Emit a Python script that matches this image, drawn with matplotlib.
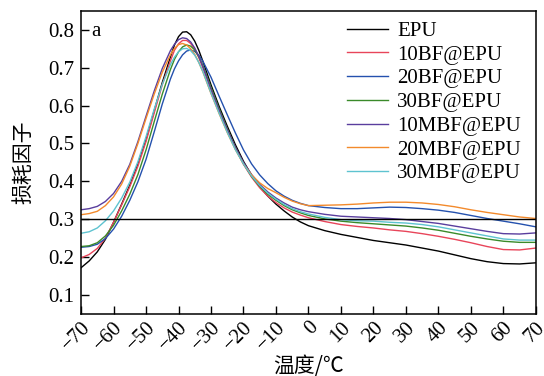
import matplotlib
matplotlib.use('Agg')
import matplotlib.pyplot as plt

plt.rcParams['font.family'] = ['Liberation Serif', 'DejaVu Serif']
plt.rcParams['axes.unicode_minus'] = True

# temperature grid (deg C), denser around the peak
temp = [-70, -67.5, -65, -62.5, -60, -57.5, -55, -52.5, -50, -47.5, -45, -42.5,
        -41.25, -40, -38.75, -37.5, -36.25, -35, -33.75, -32.5,
        -30, -27.5, -25, -22.5, -20, -17.5, -15, -12.5, -10, -7.5, -5, -2.5,
        0, 5, 10, 15, 20, 25, 30, 35, 40, 45, 50, 55, 60, 65, 70]

epu = [0.172, 0.190, 0.214, 0.247, 0.292, 0.340, 0.390, 0.446, 0.511, 0.586, 0.661, 0.728,
       0.760, 0.782, 0.794, 0.795, 0.787, 0.770, 0.746, 0.717,
       0.655, 0.598, 0.546, 0.497, 0.453, 0.416, 0.386, 0.361, 0.340, 0.322, 0.306, 0.293,
       0.283, 0.270, 0.260, 0.252, 0.244, 0.238, 0.232, 0.224, 0.216, 0.206, 0.196, 0.188,
       0.183, 0.182, 0.185]
bf10 = [0.198, 0.207, 0.223, 0.250, 0.292, 0.338, 0.386, 0.440, 0.505, 0.580, 0.655, 0.718,
        0.746, 0.763, 0.772, 0.772, 0.764, 0.749, 0.727, 0.700,
        0.640, 0.586, 0.535, 0.487, 0.445, 0.411, 0.383, 0.361, 0.344, 0.330, 0.319, 0.311,
        0.304, 0.294, 0.286, 0.281, 0.277, 0.272, 0.268, 0.262, 0.255, 0.247, 0.238, 0.228,
        0.220, 0.219, 0.224]
bf20 = [0.226, 0.228, 0.234, 0.249, 0.274, 0.308, 0.350, 0.399, 0.458, 0.530, 0.604, 0.670,
        0.697, 0.718, 0.734, 0.744, 0.747, 0.743, 0.733, 0.717,
        0.675, 0.625, 0.576, 0.528, 0.483, 0.446, 0.417, 0.394, 0.375, 0.361, 0.350, 0.342,
        0.336, 0.331, 0.328, 0.328, 0.330, 0.332, 0.331, 0.328, 0.324, 0.318, 0.310, 0.302,
        0.295, 0.288, 0.280]
bf30 = [0.228, 0.230, 0.238, 0.256, 0.284, 0.322, 0.366, 0.418, 0.483, 0.557, 0.630, 0.695,
        0.722, 0.742, 0.755, 0.760, 0.757, 0.747, 0.729, 0.706,
        0.648, 0.592, 0.539, 0.490, 0.447, 0.413, 0.387, 0.366, 0.350, 0.336, 0.325, 0.317,
        0.310, 0.301, 0.295, 0.291, 0.288, 0.285, 0.282, 0.277, 0.271, 0.263, 0.255, 0.248,
        0.242, 0.239, 0.239]
mbf10 = [0.325, 0.328, 0.334, 0.347, 0.368, 0.400, 0.445, 0.505, 0.572, 0.638, 0.698, 0.745,
         0.762, 0.774, 0.779, 0.777, 0.768, 0.752, 0.730, 0.703,
         0.643, 0.588, 0.537, 0.490, 0.450, 0.418, 0.392, 0.372, 0.356, 0.343, 0.332, 0.325,
         0.320, 0.313, 0.308, 0.306, 0.304, 0.302, 0.299, 0.294, 0.289, 0.282, 0.275, 0.268,
         0.262, 0.261, 0.264]
mbf20 = [0.312, 0.315, 0.321, 0.336, 0.359, 0.393, 0.440, 0.500, 0.566, 0.630, 0.688, 0.734,
         0.751, 0.761, 0.764, 0.760, 0.750, 0.735, 0.714, 0.689,
         0.632, 0.579, 0.529, 0.484, 0.446, 0.417, 0.396, 0.381, 0.370, 0.358, 0.348, 0.341,
         0.336, 0.337, 0.338, 0.340, 0.343, 0.345, 0.345, 0.343, 0.339, 0.333, 0.325, 0.318,
         0.312, 0.306, 0.302]
mbf30 = [0.263, 0.267, 0.277, 0.296, 0.322, 0.356, 0.398, 0.452, 0.518, 0.590, 0.656, 0.708,
         0.728, 0.742, 0.750, 0.751, 0.745, 0.733, 0.714, 0.690,
         0.633, 0.580, 0.530, 0.484, 0.446, 0.414, 0.389, 0.369, 0.353, 0.339, 0.328, 0.320,
         0.314, 0.305, 0.299, 0.296, 0.295, 0.292, 0.290, 0.286, 0.280, 0.272, 0.264, 0.256,
         0.248, 0.245, 0.245]

names = ['EPU', '10BF@EPU', '20BF@EPU', '30BF@EPU', '10MBF@EPU', '20MBF@EPU', '30MBF@EPU']
series = [epu, bf10, bf20, bf30, mbf10, mbf20, mbf30]
colors = ['#000000', '#e8455a', '#2451ae', '#3a8a2a', '#5a3e9e', '#f38a2c', '#5ec3d0']

xticks = list(range(-70, 71, 10))
yticks = [0.1, 0.2, 0.3, 0.4, 0.5, 0.6, 0.7, 0.8]

fig = plt.figure(figsize=(5.44, 3.76), dpi=100)
ax = fig.add_axes([0.149, 0.165, 0.836, 0.806])

for y, name, c in zip(series, names, colors):
    ax.plot(temp, y, color=c, lw=1.0, label=name)

ax.axhline(0.3, color='black', lw=1.0)

ax.set_xlim(-70, 70)
ax.set_ylim(0.05, 0.85)
ax.set_xticks(xticks)
ax.set_xticklabels([f'{t}'.replace('-', '\u2212') for t in xticks],
                   rotation=45, ha='right', rotation_mode='anchor')
ax.set_yticks(yticks)
ax.set_yticklabels([f'{v:.1f}' for v in yticks])
ax.tick_params(direction='in', length=5.5, width=1.0, labelsize=15,
               top=False, right=False)
ax.tick_params(axis='x', pad=3)
ax.tick_params(axis='y', pad=5)
for s in ax.spines.values():
    s.set_linewidth(1.1)

ax.text(0.022, 0.965, 'a', transform=ax.transAxes, fontsize=15, va='top', ha='left')

ax.set_xlabel('温度/℃', family=['Noto Sans CJK SC', 'DejaVu Sans'], fontsize=15, labelpad=0)
ax.set_ylabel('损耗因子', family=['Noto Sans CJK SC', 'DejaVu Sans'], fontsize=15, labelpad=10)

ax.legend(loc='upper right', bbox_to_anchor=(0.99, 1.0), frameon=False, fontsize=15,
          handlelength=1.95, labelspacing=0.2, handletextpad=0.45, borderaxespad=0.1)

fig.savefig('out.png', dpi=100)
